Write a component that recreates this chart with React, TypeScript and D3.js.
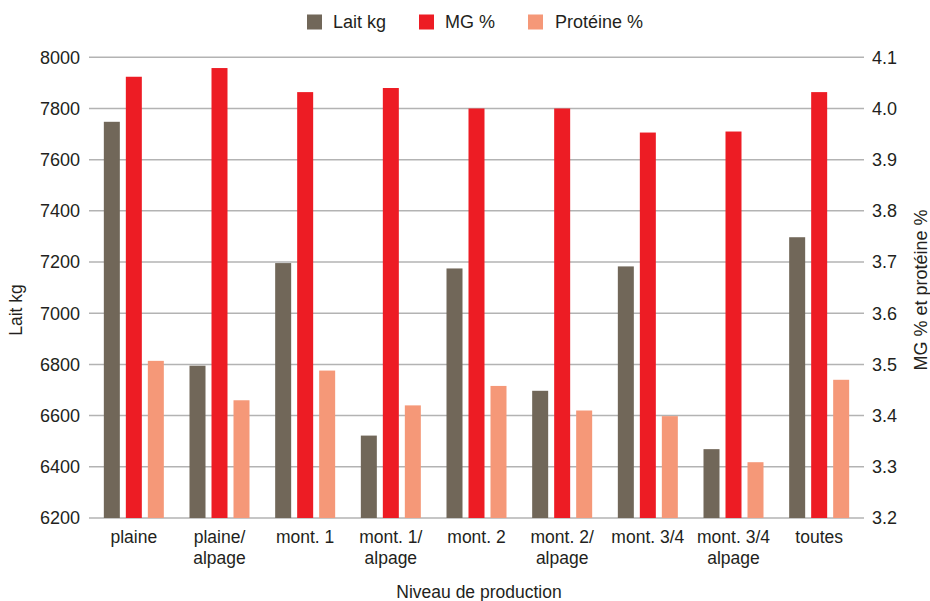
import React from 'react';
import * as d3 from 'd3';

// chart data
const categories = [
  ['plaine'],
  ['plaine/', 'alpage'],
  ['mont. 1'],
  ['mont. 1/', 'alpage'],
  ['mont. 2'],
  ['mont. 2/', 'alpage'],
  ['mont. 3/4'],
  ['mont. 3/4', 'alpage'],
  ['toutes'],
];
const laitKg = [7748, 6795, 7196, 6522, 7175, 6697, 7183, 6469, 7297];
const mgPct = [4.062, 4.079, 4.032, 4.04, 4.0, 4.0, 3.953, 3.955, 4.032];
const proteinePct = [3.507, 3.43, 3.488, 3.42, 3.458, 3.41, 3.399, 3.309, 3.47];
const leftTicks = [6200, 6400, 6600, 6800, 7000, 7200, 7400, 7600, 7800, 8000];
const rightTicks = [3.2, 3.3, 3.4, 3.5, 3.6, 3.7, 3.8, 3.9, 4.0, 4.1];

const seriesNames = ['Lait kg', 'MG %', 'Protéine %'];
const colors = ['#716759', '#ED1C24', '#F59878'];

const W = 930;
const H = 601;
const plot = { left: 91, right: 862, top: 57.3, bottom: 518 };
const font = 'Liberation Sans, Arial, Helvetica, sans-serif';
const textColor = '#231F20';

export default function App() {
  const keys = categories.map((c, i) => String(i));
  const x = d3.scaleBand().domain(keys).range([plot.left, plot.right]);
  const inner = d3
    .scaleBand()
    .domain(seriesNames)
    .range([(x.bandwidth() - 60) / 2, (x.bandwidth() + 60) / 2])
    .paddingInner(0.2727);
  const yLeft = d3.scaleLinear().domain([6200, 8000]).range([plot.bottom, plot.top]);
  const yRight = d3.scaleLinear().domain([3.2, 4.1]).range([plot.bottom, plot.top]);

  const bars: { x: number; y: number; h: number; color: string }[] = [];
  keys.forEach((k, i) => {
    const vals = [
      { s: seriesNames[0], y: yLeft(laitKg[i]) },
      { s: seriesNames[1], y: yRight(mgPct[i]) },
      { s: seriesNames[2], y: yRight(proteinePct[i]) },
    ];
    vals.forEach((v, j) => {
      bars.push({
        x: (x(k) as number) + (inner(v.s) as number),
        y: v.y,
        h: plot.bottom - v.y,
        color: colors[j],
      });
    });
  });

  const legendItems = [
    { x: 307, tx: 333 },
    { x: 419, tx: 445 },
    { x: 528, tx: 555 },
  ];

  return (
    <svg
      width={W}
      height={H}
      style={{ position: 'absolute', left: 0, top: 0, background: '#fff' }}
      fontFamily={font}
    >
      {/* gridlines */}
      {leftTicks.map((t) => (
        <line
          key={t}
          x1={89}
          x2={864}
          y1={yLeft(t)}
          y2={yLeft(t)}
          stroke="#B3B3B3"
          strokeWidth={1.5}
        />
      ))}

      {/* bars */}
      {bars.map((b, i) => (
        <rect key={i} x={b.x} y={b.y} width={inner.bandwidth()} height={b.h} fill={b.color} />
      ))}

      {/* left axis */}
      {leftTicks.map((t) => (
        <text
          key={t}
          x={80}
          y={yLeft(t)}
          dy="0.35em"
          textAnchor="end"
          fontSize={18}
          fill={textColor}
        >
          {t}
        </text>
      ))}
      <text
        transform={`translate(22,310) rotate(-90)`}
        textAnchor="middle"
        fontSize={17.5}
        fill={textColor}
      >
        Lait kg
      </text>

      {/* right axis */}
      {rightTicks.map((t) => (
        <text
          key={t}
          x={872}
          y={yRight(t)}
          dy="0.35em"
          textAnchor="start"
          fontSize={18}
          fill={textColor}
        >
          {d3.format('.1f')(t)}
        </text>
      ))}
      <text
        transform={`translate(927,290) rotate(-90)`}
        textAnchor="middle"
        fontSize={18}
        fill={textColor}
      >
        MG % et protéine %
      </text>

      {/* category labels */}
      {categories.map((lines, i) => (
        <text
          key={i}
          x={(x(keys[i]) as number) + x.bandwidth() / 2}
          y={543}
          textAnchor="middle"
          fontSize={17.5}
          fill={textColor}
        >
          {lines.map((l, j) => (
            <tspan key={j} x={(x(keys[i]) as number) + x.bandwidth() / 2} dy={j === 0 ? 0 : 20.5}>
              {l}
            </tspan>
          ))}
        </text>
      ))}
      <text x={479} y={598} textAnchor="middle" fontSize={17.5} fill={textColor}>
        Niveau de production
      </text>

      {/* legend */}
      {legendItems.map((it, i) => (
        <g key={i}>
          <rect x={it.x} y={14.5} width={15} height={15} fill={colors[i]} />
          <text x={it.tx} y={28} fontSize={18} fill={textColor}>
            {seriesNames[i]}
          </text>
        </g>
      ))}
    </svg>
  );
}
